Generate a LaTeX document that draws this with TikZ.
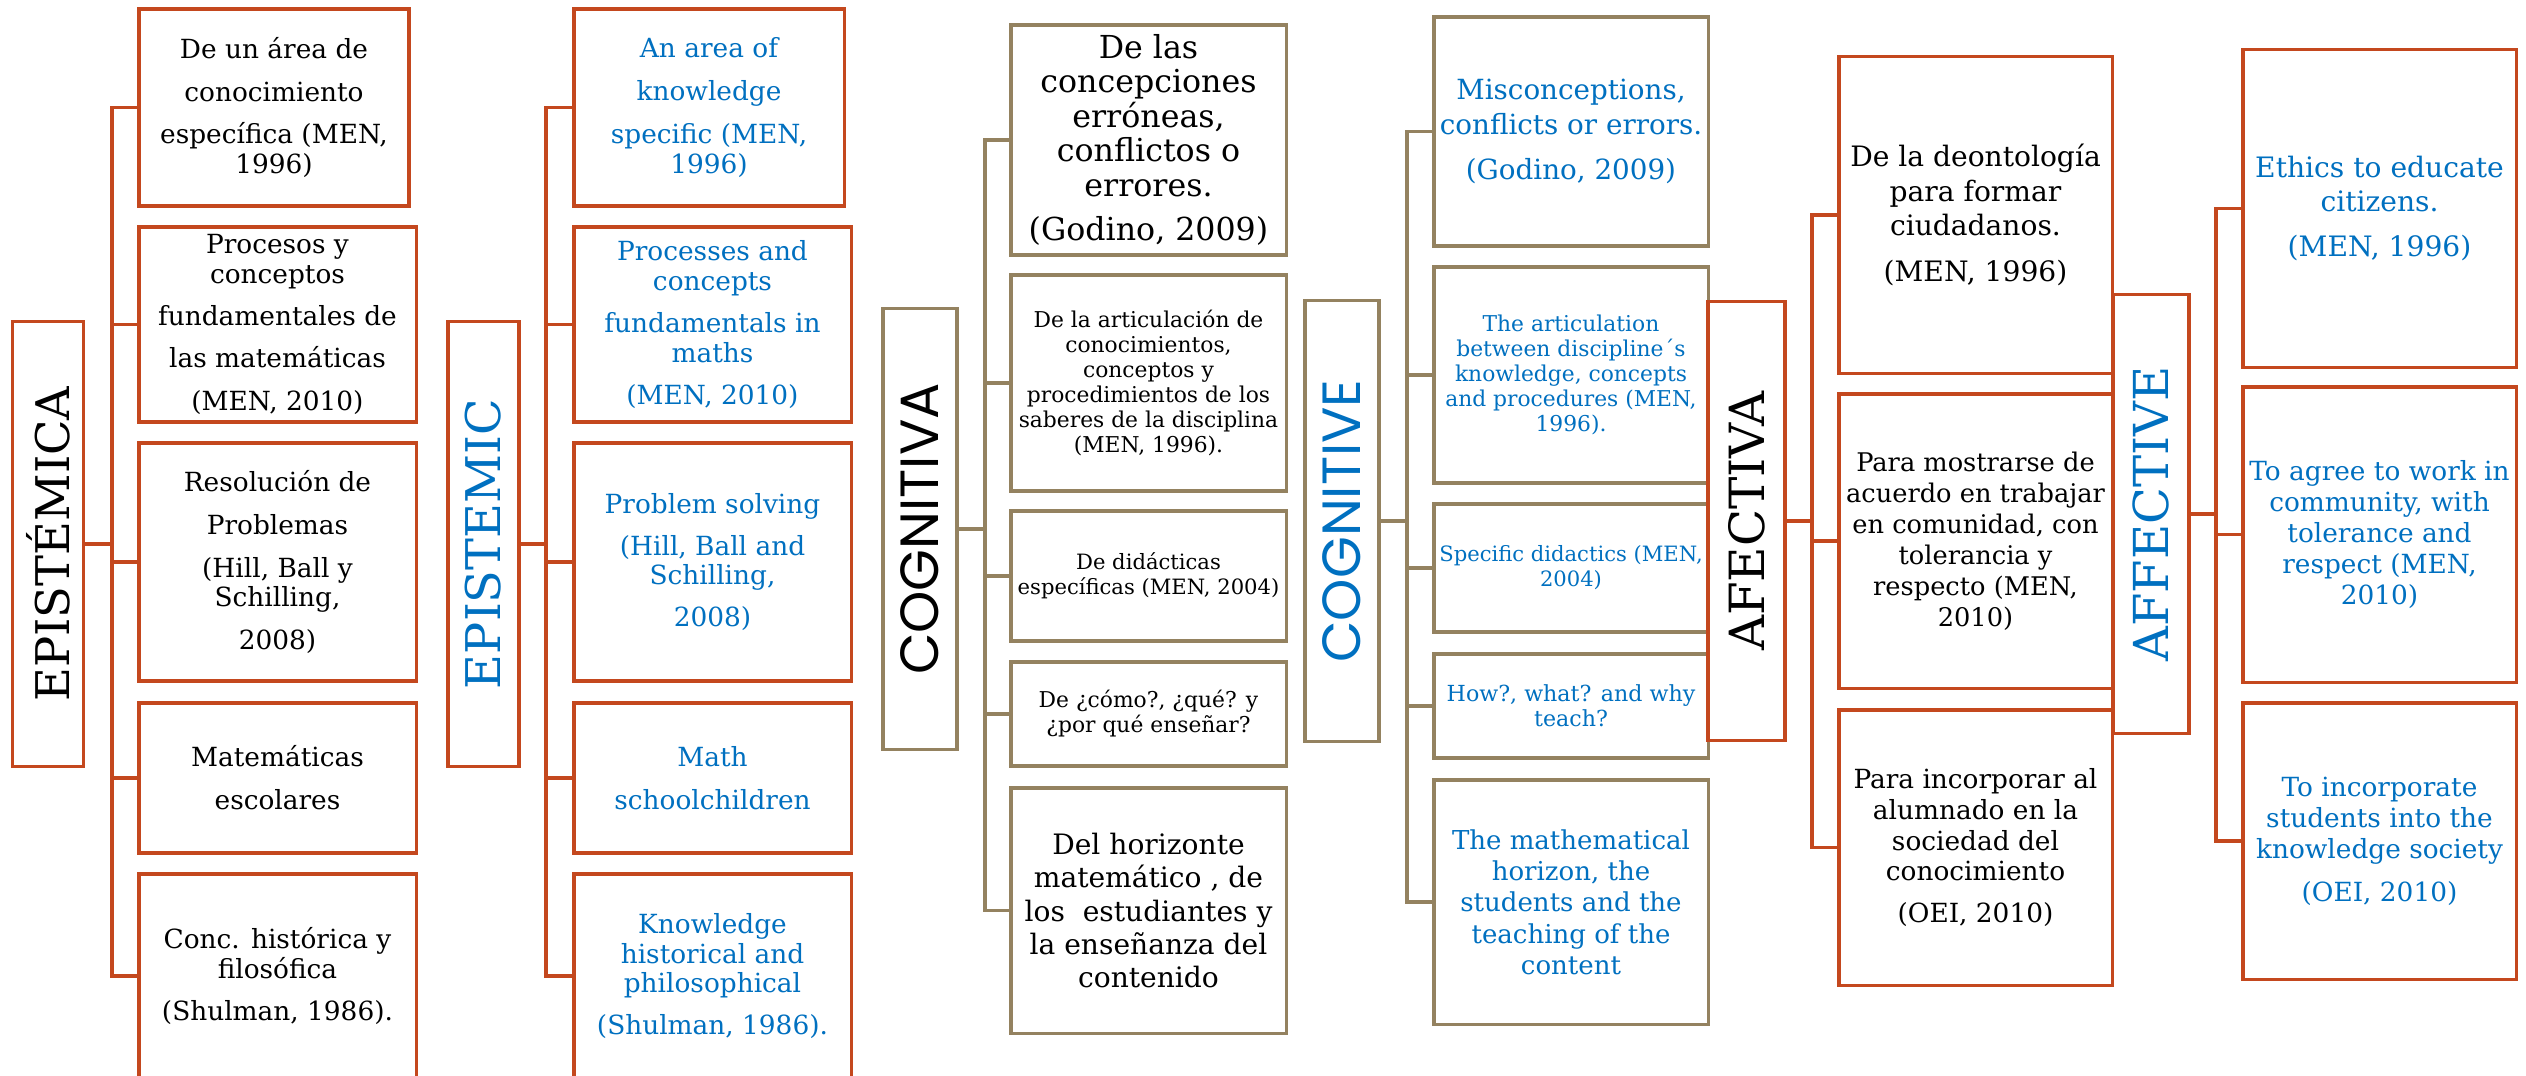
\documentclass[tikz,border=0pt]{standalone}
\usepackage{fontspec}
\setmainfont{DejaVu Serif}
\newfontfamily\slab{DejaVu Serif}
\newfontfamily\gothic{Poppins}
\definecolor{rust}{RGB}{196,72,30}
\definecolor{tanline}{RGB}{148,130,96}
\definecolor{engblue}{RGB}{0,112,192}
\newcommand\fs[2]{\fontsize{#1}{#2}\selectfont}
\tikzset{
  box/.style={draw, line width=0.9pt, align=center, inner sep=0pt, fill=white},
  rbox/.style={box, draw=rust},
  tbox/.style={box, draw=tanline},
  es/.style={text=black},
  en/.style={text=engblue},
  rlink/.style={draw=rust, line width=0.9pt},
  tlink/.style={draw=tanline, line width=0.9pt},
}
\begin{document}
\begin{tikzpicture}[x=0.01cm, y=-0.01cm]
\fill[white] (0,0) rectangle (2526,1075);
\useasboundingbox (0,0) rectangle (2526,1075);

% ---------------- EPISTEMICA (Spanish) ----------------
\coordinate (k1) at (112,0);
\node[rbox, es, minimum width=0.715cm, minimum height=4.44cm] (H1) at (48,544)
  {\rotatebox{90}{\slab\fs{13.2}{15}EPISTÉMICA}};
\node[rbox, es, font=\fs{7.5}{8.5}, minimum width=2.70cm, minimum height=1.97cm] (A1) at (274,107.5)
  {De un área de\\[3.7pt] conocimiento\\[3.7pt] específica (MEN,\\ 1996)};
\node[rbox, es, font=\fs{7.5}{8.5}, minimum width=2.77cm, minimum height=1.95cm] (A2) at (277.5,324.5)
  {Procesos y\\ conceptos\\[3.4pt] fundamentales de\\[3.7pt] las matemáticas\\[3.7pt] (MEN, 2010)};
\node[rbox, es, font=\fs{7.5}{8.5}, minimum width=2.77cm, minimum height=2.38cm] (A3) at (277.5,562)
  {Resolución de\\[3.7pt] Problemas\\[3.7pt] (Hill, Ball y\\ Schilling,\\[3.7pt] 2008)};
\node[rbox, es, font=\fs{7.5}{8.5}, minimum width=2.77cm, minimum height=1.50cm] (A4) at (277.5,778)
  {Matemáticas\\[3.7pt] escolares};
\node[rbox, es, font=\fs{7.5}{8.5}, minimum width=2.77cm, minimum height=2.04cm] (A5) at (277.5,976)
  {Conc. histórica y\\ filosófica\\[3.7pt] (Shulman, 1986).};
\draw[rlink] (H1.east) -- (H1.east -| k1);
\draw[rlink] (A1.west) -| (k1 |- A5.west) -- (A5.west);
\foreach \n in {A2,A3,A4} \draw[rlink] (\n.west) -- (\n.west -| k1);

% ---------------- EPISTEMIC (English) ----------------
\coordinate (k2) at (546,0);
\node[rbox, en, minimum width=0.71cm, minimum height=4.44cm] (H2) at (483.5,544)
  {\rotatebox{90}{\slab\fs{13.6}{16}EPISTEMIC}};
\node[rbox, en, font=\fs{7.5}{8.5}, minimum width=2.70cm, minimum height=1.97cm] (B1) at (709,107.5)
  {An area of\\[3.7pt] knowledge\\[3.7pt] specific (MEN,\\ 1996)};
\node[rbox, en, font=\fs{7.5}{8.5}, minimum width=2.77cm, minimum height=1.95cm] (B2) at (712.5,324.5)
  {Processes and\\ concepts\\[3.4pt] fundamentals in\\ maths\\[3.4pt] (MEN, 2010)};
\node[rbox, en, font=\fs{7.5}{8.5}, minimum width=2.77cm, minimum height=2.38cm] (B3) at (712.5,562)
  {Problem solving\\[3.4pt] (Hill, Ball and\\ Schilling,\\[3.4pt] 2008)};
\node[rbox, en, font=\fs{7.5}{8.5}, minimum width=2.77cm, minimum height=1.50cm] (B4) at (712.5,778)
  {Math\\[3.7pt] schoolchildren};
\node[rbox, en, font=\fs{7.5}{8.5}, minimum width=2.77cm, minimum height=2.04cm] (B5) at (712.5,976)
  {Knowledge\\ historical and\\ philosophical\\[3.4pt] (Shulman, 1986).};
\draw[rlink] (H2.east) -- (H2.east -| k2);
\draw[rlink] (B1.west) -| (k2 |- B5.west) -- (B5.west);
\foreach \n in {B2,B3,B4} \draw[rlink] (\n.west) -- (\n.west -| k2);

% ---------------- COGNITIVA (Spanish) ----------------
\coordinate (k3) at (985,0);
\node[tbox, es, minimum width=0.74cm, minimum height=4.40cm] (H3) at (920,529)
  {\rotatebox{90}{\gothic\fs{15.3}{18}COGNITIVA}};
\node[tbox, es, font=\fs{9.0}{9.8}, minimum width=2.75cm, minimum height=2.30cm] (C1) at (1148.5,140)
  {De las\\ concepciones\\ erróneas,\\ conflictos o\\ errores.\\[2.8pt] (Godino, 2009)};
\node[tbox, es, font=\fs{6.2}{7.1}, minimum width=2.75cm, minimum height=2.16cm] (C2) at (1148.5,383)
  {De la articulación de\\ conocimientos,\\ conceptos y\\ procedimientos de los\\ saberes de la disciplina\\ (MEN, 1996).};
\node[tbox, es, font=\fs{6.0}{7.1}, minimum width=2.75cm, minimum height=1.30cm] (C3) at (1148.5,576)
  {De didácticas\\ específicas (MEN, 2004)};
\node[tbox, es, font=\fs{6.2}{7.1}, minimum width=2.75cm, minimum height=1.04cm] (C4) at (1148.5,714)
  {De ¿cómo?, ¿qué? y\\ ¿por qué enseñar?};
\node[tbox, es, font=\fs{8.0}{9.5}, minimum width=2.75cm, minimum height=2.45cm] (C5) at (1148.5,910.5)
  {Del horizonte\\ matemático , de\\ los~ estudiantes y\\ la enseñanza del\\ contenido};
\draw[tlink] (H3.east) -- (H3.east -| k3);
\draw[tlink] (C1.west) -| (k3 |- C5.west) -- (C5.west);
\foreach \n in {C2,C3,C4} \draw[tlink] (\n.west) -- (\n.west -| k3);

% ---------------- COGNITIVE (English) ----------------
\coordinate (k4) at (1407,0);
\node[tbox, en, minimum width=0.74cm, minimum height=4.40cm] (H4) at (1342,521)
  {\rotatebox{90}{\gothic\fs{15.3}{18}COGNITIVE}};
\node[tbox, en, font=\fs{7.9}{9.9}, minimum width=2.74cm, minimum height=2.29cm] (D1) at (1571,131.5)
  {Misconceptions,\\ conflicts or errors.\\[3pt] (Godino, 2009)};
\node[tbox, en, font=\fs{6.2}{7.1}, minimum width=2.74cm, minimum height=2.16cm] (D2) at (1571,375)
  {The articulation\\ between discipline´s\\ knowledge, concepts\\ and procedures (MEN,\\ 1996).};
\node[tbox, en, font=\fs{6.0}{7.1}, minimum width=2.74cm, minimum height=1.28cm] (D3) at (1571,568)
  {Specific didactics (MEN,\\ 2004)};
\node[tbox, en, font=\fs{6.3}{7.1}, minimum width=2.74cm, minimum height=1.04cm] (D4) at (1571,706)
  {How?, what? and why\\ teach?};
\node[tbox, en, font=\fs{7.4}{8.9}, minimum width=2.74cm, minimum height=2.44cm] (D5) at (1571,902)
  {The mathematical\\ horizon, the\\ students and the\\ teaching of the\\ content};
\draw[tlink] (H4.east) -- (H4.east -| k4);
\draw[tlink] (D1.west) -| (k4 |- D5.west) -- (D5.west);
\foreach \n in {D2,D3,D4} \draw[tlink] (\n.west) -- (\n.west -| k4);

% ---------------- AFECTIVA (Spanish) ----------------
\coordinate (k5) at (1812,0);
\node[rbox, es, minimum width=0.77cm, minimum height=4.38cm] (H5) at (1746.5,521)
  {\rotatebox{90}{\slab\fs{13.8}{16}AFECTIVA}};
\node[rbox, es, font=\fs{8.0}{9.9}, minimum width=2.73cm, minimum height=3.16cm] (E1) at (1975.5,215)
  {De la deontología\\ para formar\\ ciudadanos.\\[3.2pt] (MEN, 1996)};
\node[rbox, es, font=\fs{7.3}{8.8}, minimum width=2.73cm, minimum height=2.94cm] (E2) at (1975.5,541)
  {Para mostrarse de\\ acuerdo en trabajar\\ en comunidad, con\\ tolerancia y\\ respecto (MEN,\\ 2010)};
\node[rbox, es, font=\fs{7.5}{8.8}, minimum width=2.73cm, minimum height=2.75cm] (E3) at (1975.5,847.5)
  {Para incorporar al\\ alumnado en la\\ sociedad del\\ conocimiento\\[3.1pt] (OEI, 2010)};
\draw[rlink] (H5.east) -- (H5.east -| k5);
\draw[rlink] (E1.west) -| (k5 |- E3.west) -- (E3.west);
\draw[rlink] (E2.west) -- (E2.west -| k5);

% ---------------- AFFECTIVE (English) ----------------
\coordinate (k6) at (2216,0);
\node[rbox, en, minimum width=0.76cm, minimum height=4.38cm] (H6) at (2151,514)
  {\rotatebox{90}{\slab\fs{13.7}{16}AFFECTIVE}};
\node[rbox, en, font=\fs{8.0}{9.6}, minimum width=2.73cm, minimum height=3.17cm] (F1) at (2379.5,208.5)
  {Ethics to educate\\ citizens.\\[3.2pt] (MEN, 1996)};
\node[rbox, en, font=\fs{7.5}{8.8}, minimum width=2.73cm, minimum height=2.95cm] (F2) at (2379.5,534.5)
  {To agree to work in\\ community, with\\ tolerance and\\ respect (MEN,\\ 2010)};
\node[rbox, en, font=\fs{7.5}{8.8}, minimum width=2.73cm, minimum height=2.76cm] (F3) at (2379.5,841)
  {To incorporate\\ students into the\\ knowledge society\\[3.4pt] (OEI, 2010)};
\draw[rlink] (H6.east) -- (H6.east -| k6);
\draw[rlink] (F1.west) -| (k6 |- F3.west) -- (F3.west);
\draw[rlink] (F2.west) -- (F2.west -| k6);
\end{tikzpicture}
\end{document}
